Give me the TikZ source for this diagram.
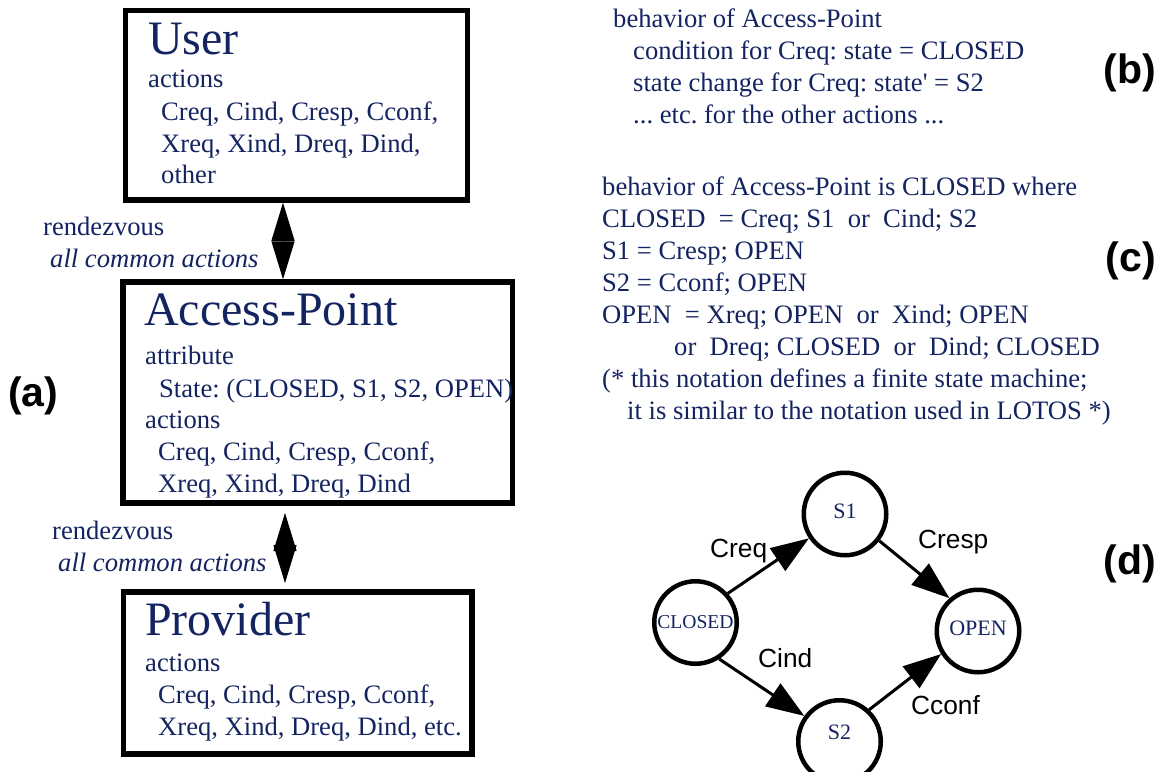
\documentclass[tikz,border=0pt]{standalone}
\usepackage{fontspec}
\setmainfont{Liberation Serif}
\setsansfont{Liberation Sans}
\usetikzlibrary{arrows.meta}
\definecolor{ink}{RGB}{20,36,96}
\frenchspacing

\tikzset{
  box/.style={draw=black, line width=5.5pt, rectangle, inner sep=0pt},
  ttl/.style={anchor=base west, inner sep=0pt, text=ink, font=\fontsize{48}{56}\selectfont},
  txt/.style={anchor=base west, inner sep=0pt, text=ink, font=\fontsize{26.6}{32}\selectfont},
  itxt/.style={txt, font=\fontsize{26.6}{32}\selectfont\itshape},
  tag/.style={inner sep=0pt, font=\sffamily\bfseries\fontsize{41}{48}\selectfont},
  state/.style={circle, draw=black, line width=4.5pt, minimum size=82.5pt, inner sep=0pt},
  stxt/.style={text=ink, inner sep=0pt, font=\fontsize{22}{24}\selectfont},
  trans/.style={line width=3pt, -{Triangle[length=38pt,width=27pt]}},
  tlbl/.style={anchor=base west, inner sep=0pt, font=\sffamily\fontsize{26.3}{30}\selectfont},
  rdv/.style={line width=1pt, {Triangle[length=38pt,width=23pt]}-{Triangle[length=38pt,width=23pt]}},
}

\begin{document}
\begin{tikzpicture}[x=1pt,y=-1pt]
\useasboundingbox (0,0) rectangle (1158,771);
\fill[white] (0,0) rectangle (1158,771);
\clip (0,0) rectangle (1158,771);

% ---------- (a) the three processes ----------
\node[box, minimum width=342pt, minimum height=189.5pt] (user) at (296.5,105.25) {};
\node[box, minimum width=389.5pt, minimum height=221pt] (ap) at (317.75,392.5) {};
\node[box, minimum width=348.5pt, minimum height=162pt] (prov) at (297.75,673) {};

% User
\node[ttl] (u0) at (148,54) {User};
\node[txt] (u1) at (148,87) {actions};
\node[txt] (u2) at (161,120) {Creq, Cind, Cresp, Cconf,};
\node[txt] (u3) at (161,152) {Xreq, Xind, Dreq, Dind,};
\node[txt] (u4) at (161,183) {other};

% Access-Point
\node[ttl] (a0) at (144,325) {Access-Point};
\node[txt] (a1) at (145,364) {attribute};
\node[txt] (a2) at (159,397) {State: (CLOSED, S1, S2, OPEN)};
\node[txt] (a3) at (145,428) {actions};
\node[txt] (a4) at (158,460) {Creq, Cind, Cresp, Cconf,};
\node[txt] (a5) at (158,492) {Xreq, Xind, Dreq, Dind};

% Provider
\node[ttl] (p0) at (145,635) {Provider};
\node[txt] (p1) at (145,671) {actions};
\node[txt] (p2) at (158,703) {Creq, Cind, Cresp, Cconf,};
\node[txt] (p3) at (158,735) {Xreq, Xind, Dreq, Dind, etc.};

% rendezvous connectors
\coordinate (k1) at (283,0);
\coordinate (k2) at (285,0);
\draw[rdv] (user.south -| k1) -- (ap.north -| k1);
\draw[rdv, shorten <=7.25pt, shorten >=6.25pt] (ap.south -| k2) -- (prov.north -| k2);

\node[txt] (r1) at (43,235) {rendezvous};
\node[itxt] (r2) at (50,267) {all common actions};
\node[txt] (r3) at (52,539) {rendezvous};
\node[itxt] (r4) at (58,571) {all common actions};

% ---------- (b) attribute-based behaviour ----------
\node[txt] (b1) at (613,27.5) {behavior of Access-Point};
\node[txt] (b2) at (633,59) {condition for Creq: state = CLOSED};
\node[txt] (b3) at (633,91.5) {state change for Creq: state\textquotesingle{} = S2};
\node[txt] (b4) at (633,123) {... etc. for the other actions ...};

% ---------- (c) process expression ----------
\node[txt] (c1) at (602,195) {behavior of Access-Point is CLOSED where};
\node[txt] (c2) at (602,227) {CLOSED~ = Creq; S1~ or~ Cind; S2};
\node[txt] (c3) at (602,259) {S1 = Cresp; OPEN};
\node[txt] (c4) at (602,291) {S2 = Cconf; OPEN};
\node[txt] (c5) at (602,323) {OPEN~ = Xreq; OPEN~ or~ Xind; OPEN};
\node[txt] (c6) at (674,355) {or~ Dreq; CLOSED~ or~ Dind; CLOSED};
\node[txt] (c7) at (602,387) {(* this notation defines a finite state machine;};
\node[txt] (c8) at (627,419) {it is similar to the notation used in LOTOS *)};

% ---------- (d) state machine ----------
\node[state, label={[stxt, font=\fontsize{19.6}{22}\selectfont]center:CLOSED}] (closed) at (695.5,622.5) {};
\node[state, label={[stxt, yshift=3pt]center:S1}] (s1) at (845,514) {};
\node[state, label={[stxt, yshift=9pt]center:S2}] (s2) at (839.5,741.5) {};
\node[state, label={[stxt, yshift=3pt]center:OPEN}] (open) at (978,631) {};

\draw[trans] (closed.42) -- (s1.214);
\draw[trans] (s1.-38) -- (open.131);
\draw[trans] (closed.-57) -- (s2.144);
\draw[trans] (s2.47) -- (open.212);

\node[tlbl] (lcreq) at (710,557) {Creq};
\node[tlbl] (lcresp) at (918,548) {Cresp};
\node[tlbl] (lcind) at (758,667) {Cind};
\node[tlbl] (lcconf) at (911,714) {Cconf};

% ---------- panel tags ----------
\node[tag, anchor=base west] (ta) at (8,406) {(a)};
\node[tag, anchor=base east] (tb) at (1156,83.5) {(b)};
\node[tag, anchor=base east] (tc) at (1156,271.5) {(c)};
\node[tag, anchor=base east] (td) at (1156,574.5) {(d)};
\end{tikzpicture}
\end{document}
